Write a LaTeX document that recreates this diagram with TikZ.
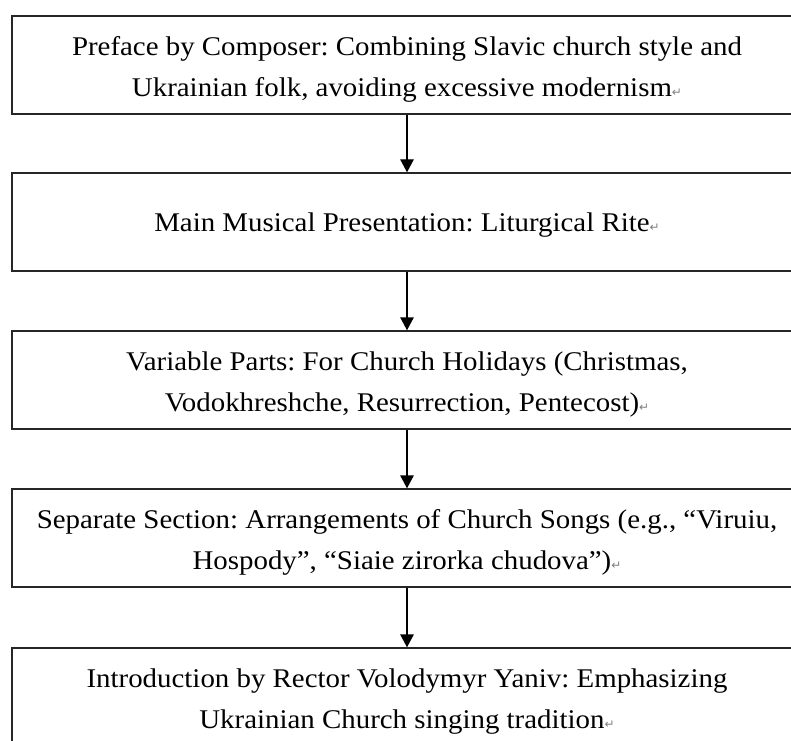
\documentclass[tikz,border=0pt]{standalone}
\usepackage{fontspec}
\setmainfont[FakeStretch=1.07]{Liberation Serif}
\newfontfamily\markfont{DejaVu Sans}
\usetikzlibrary{arrows.meta}

\tikzset{
  stagebox/.style={draw=black!85, line width=1.4pt, minimum width=790pt,
    minimum height=98pt, inner sep=0pt, align=center,
    font=\fontsize{27}{41}\selectfont\frenchspacing},
  flowarrow/.style={-{Triangle[width=13.5pt,length=13pt]}, line width=1.4pt}
}
\newcommand{\parmark}{{\markfont\fontsize{12}{12}\selectfont\color{gray}↵}}
\newcommand{\topstrut}{\rule{0pt}{27pt}}

\begin{document}
\begin{tikzpicture}[x=1pt,y=1pt]
    \useasboundingbox (0,0) rectangle (791,740);

    % Stages, top to bottom
    \node[stagebox] (preface) at (407,675) {\topstrut Preface by Composer: Combining Slavic church style and\\ Ukrainian folk, avoiding excessive modernism\parmark};
    \node[stagebox] (rite) at (407,518) {\rule{0pt}{24pt}Main Musical Presentation: Liturgical Rite\parmark};
    \node[stagebox] (holidays) at (407,360) {\topstrut Variable Parts: For Church Holidays (Christmas,\\ Vodokhreshche, Resurrection, Pentecost)\parmark};
    \node[stagebox] (songs) at (407,202) {\topstrut Separate Section: Arrangements of Church Songs (e.g., “Viruiu,\\ Hospody”, “Siaie zirorka chudova”)\parmark};
    \node[stagebox] (rector) at (407,43) {\topstrut Introduction by Rector Volodymyr Yaniv: Emphasizing\\ Ukrainian Church singing tradition\parmark};

    % Connectors
    \foreach \a/\b in {preface/rite, rite/holidays, holidays/songs, songs/rector}
      \draw[flowarrow] (\a.south) -- (\b.north);
\end{tikzpicture}
\end{document}
